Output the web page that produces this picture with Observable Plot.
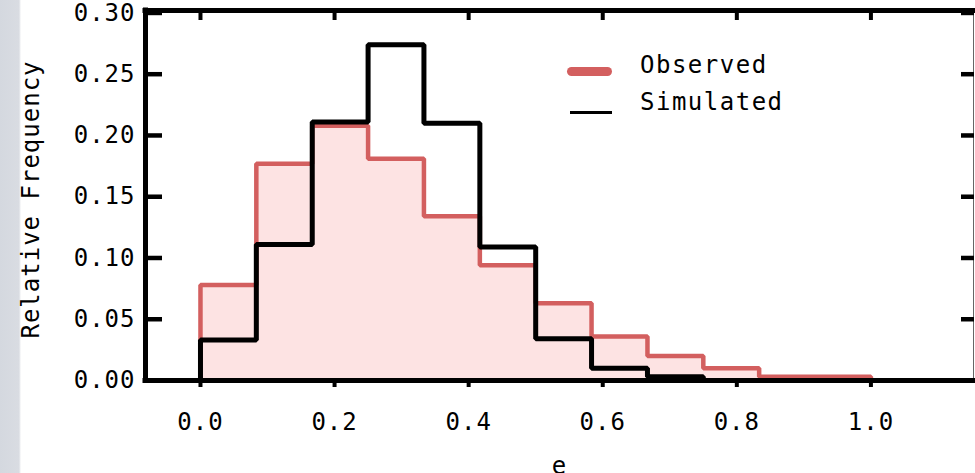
<!DOCTYPE html>
<html><head><meta charset="utf-8">
<script src="https://cdn.jsdelivr.net/npm/d3@7"></script>
<script src="https://cdn.jsdelivr.net/npm/@observablehq/plot@0.6"></script>
<style>
html,body{margin:0;padding:0;background:#fff;}
#wrap{position:relative;width:975px;height:473px;overflow:hidden;
  background:linear-gradient(to right,#d4d8df 0px,#d9dce2 19px,#ffffff 21px);}
#wrap svg text{letter-spacing:1px;}
.lgsw{position:absolute;}
.lgtx{position:absolute;font-family:"DejaVu Sans Mono",monospace;font-size:24px;letter-spacing:1.5px;color:#000;line-height:24px;}
</style></head><body><div id="wrap"></div>
<script>
// bin edges of the eccentricity histogram
const binEdges = [0, 0.0833, 0.1667, 0.25, 0.3333, 0.4167, 0.5, 0.5833, 0.6667, 0.75, 0.8333, 0.9167, 1.0];
// relative frequency per bin
const observed  = [0.078, 0.177, 0.208, 0.181, 0.134, 0.094, 0.063, 0.036, 0.020, 0.010, 0.003, 0.003];
const simulated = [0.033, 0.111, 0.211, 0.274, 0.210, 0.109, 0.034, 0.010, 0.003, 0.000, 0.000, 0.000];
const xTicks = [0.0, 0.2, 0.4, 0.6, 0.8, 1.0];
const yTicks = [0.00, 0.05, 0.10, 0.15, 0.20, 0.25, 0.30];
const seriesNames = ["Observed", "Simulated"];
const seriesColors = ["#d35f5f", "#000000"];
const fillColor = "#fde3e3";
const xLabel = "e";
const yLabel = "Relative Frequency";

const xDomain = [-0.082, 1.153];
const yDomain = [0, 0.302];

function outline(values) {
  const pts = [{x: binEdges[0], y: 0}];
  values.forEach((v, i) => { pts.push({x: binEdges[i], y: v}, {x: binEdges[i + 1], y: v}); });
  pts.push({x: binEdges[values.length], y: 0});
  return pts;
}

const chart = Plot.plot({
  width: 975, height: 473,
  marginLeft: 145, marginRight: 2, marginTop: 10, marginBottom: 93,
  style: {fontFamily: "DejaVu Sans Mono", fontSize: "24px", background: "transparent", color: "#000"},
  x: {domain: xDomain, axis: null},
  y: {domain: yDomain, axis: null},
  marks: [
    Plot.area(outline(observed), {x1: "x", y1: d => 0, y2: "y", fill: fillColor}),
    Plot.line(outline(observed), {x: "x", y: "y", stroke: seriesColors[0], strokeWidth: 4.5, strokeLinejoin: "miter", strokeLinecap: "butt"}),
    Plot.line(outline(simulated), {x: "x", y: "y", stroke: seriesColors[1], strokeWidth: 5, strokeLinejoin: "miter", strokeLinecap: "butt"}),
    // frame
    Plot.ruleX([xDomain[1]], {stroke: "#666", strokeWidth: 1}),
    Plot.ruleY([yDomain[0]], {strokeWidth: 5, strokeLinecap: "square"}),
    Plot.ruleY([yDomain[1]], {strokeWidth: 5, strokeLinecap: "square"}),
    Plot.ruleX([xDomain[0]], {strokeWidth: 5, strokeLinecap: "square"}),
    // ticks and tick labels
    Plot.axisX({anchor: "bottom", ticks: xTicks, tickSize: 7, tickPadding: 25, strokeWidth: 4,
      tickFormat: d3.format(".1f"), fontSize: 24, label: null}),
    Plot.axisX({anchor: "top", ticks: xTicks, tickSize: 9, dy: 9, strokeWidth: 4, tickFormat: () => "", label: null}),
    Plot.axisY({anchor: "left", ticks: yTicks, tickSize: 17, dx: 17, strokeWidth: 4.5, tickFormat: () => "", label: null}),
    Plot.axisY({anchor: "left", ticks: yTicks, tickSize: 0, tickPadding: 10, tickFormat: d3.format(".2f"), fontSize: 24, label: null}),
    Plot.axisY({anchor: "right", ticks: yTicks, tickSize: 13, dx: -13, strokeWidth: 4.5, tickFormat: () => "", label: null}),
    // axis titles
    Plot.text([yLabel], {text: d => d, frameAnchor: "left", textAnchor: "middle", rotate: -90, dx: -114, dy: 4, fontSize: 24}),
    Plot.text([xLabel], {text: d => d, frameAnchor: "bottom", textAnchor: "middle", lineAnchor: "top", dy: 76, fontSize: 24})
  ]
});
const wrap = document.getElementById("wrap");
wrap.appendChild(chart);

// legend overlay
const lg = [
  {sw: {left: 567, top: 66.5, width: 45, height: 9, radius: 4.5}, tx: {left: 640, top: 53}},
  {sw: {left: 570, top: 111, width: 42, height: 3, radius: 0}, tx: {left: 640, top: 90}}
];
seriesNames.forEach((name, i) => {
  const s = document.createElement("div");
  s.className = "lgsw";
  Object.assign(s.style, {left: lg[i].sw.left + "px", top: lg[i].sw.top + "px", width: lg[i].sw.width + "px",
    height: lg[i].sw.height + "px", borderRadius: lg[i].sw.radius + "px", background: seriesColors[i]});
  wrap.appendChild(s);
  const t = document.createElement("div");
  t.className = "lgtx";
  t.textContent = name;
  Object.assign(t.style, {left: lg[i].tx.left + "px", top: lg[i].tx.top + "px"});
  wrap.appendChild(t);
});
</script></body></html>
